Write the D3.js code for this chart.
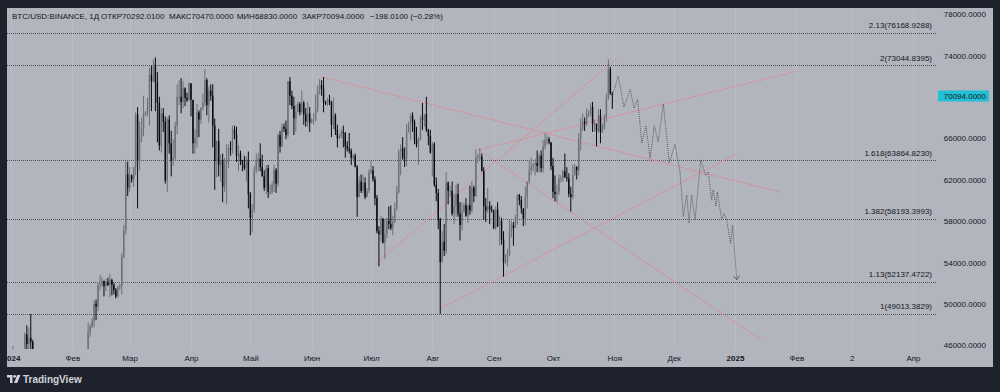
<!DOCTYPE html>
<html><head><meta charset="utf-8">
<script src="https://cdn.jsdelivr.net/npm/d3@7"></script>
<style>
html,body{margin:0;padding:0;background:#1e222d;}
svg{display:block;}
text{font-family:"Liberation Sans",Arial,sans-serif;}
</style></head><body>
<svg id="chart" width="1000" height="392"></svg>
<script>
// ---------------- DATA (prices in thousands USD, daily from startDate) ----------------
const startDate = "2024-01-01";
const endDate = "2025-04-01";
const symbolTitle = "BTC/USD:BINANCE, 1Д";

const opens = [
// Jan
42.3,44.2,45.0,42.9,44.2,44.2,44.0,43.9,47.0,46.1, 46.7,46.3,42.8,42.9,41.7,42.5,43.1,42.7,41.3,41.6, 41.7,41.6,39.5,39.8,40.1,39.9,41.8,42.1,42.0,43.3,42.9,
// Feb
42.6,43.1,43.2,43.0,42.6,42.7,43.1,44.3,45.3,47.2, 47.8,48.3,50.0,49.7,51.8,51.9,52.2,51.7,52.1,51.8, 52.3,51.8,51.3,50.7,51.6,51.7,54.5,57.1,62.5,
// Mar
61.2,62.4,62.0,63.2,68.3,63.8,66.1,66.9,68.3,68.5, 69.0,72.1,71.5,73.1,71.4,69.4,65.3,68.4,67.6,61.9, 67.8,65.5,63.8,64.1,67.2,70.0,70.0,69.5,70.8,69.9,69.7,
// Apr
71.3,69.7,65.5,66.0,68.5,67.8,68.9,69.4,71.6,69.2, 70.6,70.1,67.2,63.8,65.7,63.4,63.8,61.3,63.5,63.8, 65.0,64.9,66.8,66.4,64.3,64.5,63.8,63.5,63.1,63.8,
// May
60.6,58.3,59.1,62.9,63.9,64.0,63.2,62.3,61.2,63.1, 60.8,60.8,61.5,62.9,61.6,66.3,65.2,67.1,66.9,66.3, 71.5,70.1,69.1,67.9,68.5,69.3,68.5,69.4,68.3,67.6,68.4,
// Jun
67.5,67.8,67.8,68.8,70.6,71.1,70.8,69.4,69.3,69.7, 69.5,67.3,68.2,66.8,66.0,66.2,66.6,66.5,65.2,65.0, 64.8,64.1,64.3,63.2,60.3,61.8,60.9,61.7,60.3,60.9,
// Jul
62.7,62.9,62.0,60.2,57.0,56.7,58.2,55.9,56.7,58.0, 57.7,57.3,57.9,59.2,60.8,64.7,65.0,64.1,64.0,66.7, 67.2,68.2,67.6,65.9,65.4,65.8,67.9,67.8,68.3,66.8,66.2,
// Aug
64.6,65.4,61.5,60.7,58.1,54.0,56.0,55.1,61.7,60.9, 60.9,58.7,59.4,60.6,58.7,57.6,58.9,59.5,58.5,59.5, 59.0,61.2,60.4,64.1,64.2,64.2,62.8,59.4,59.0,59.4,59.1,
// Sep
59.0,57.3,59.1,57.5,58.0,56.2,54.0,54.1,54.8,57.0, 57.6,57.3,58.1,60.5,60.0,59.2,58.2,60.3,61.8,62.9, 63.2,63.4,63.6,63.3,64.3,63.1,65.2,65.8,65.9,65.6,
// Oct
63.3,60.8,60.6,60.8,62.1,62.1,62.8,62.2,62.1,60.6, 60.3,62.4,63.2,62.9,66.0,67.0,67.6,67.4,68.4,68.4, 69.0,67.4,67.4,66.7,68.2,66.6,67.0,68.0,69.9,72.7,70.29201
];
const highs = [
44.2,45.9,45.5,44.7,44.3,44.2,44.5,47.2,47.9,47.7, 49.0,46.5,43.3,43.1,43.4,43.6,43.2,42.9,42.1,41.9, 41.9,41.7,40.1,40.5,40.3,42.2,42.2,42.8,43.3,43.9,43.7,
43.3,43.4,43.4,43.1,43.5,43.4,44.4,45.6,48.2,48.0, 48.6,50.3,50.4,52.0,52.8,52.6,52.2,52.4,52.5,52.9, 52.4,52.0,51.5,51.7,51.9,54.9,57.6,63.9,63.7,
63.2,62.5,63.2,68.5,69.0,67.6,68.0,70.1,68.6,69.9, 72.8,73.0,73.6,73.8,72.4,70.0,68.9,68.9,68.1,68.0, 68.2,66.7,65.9,67.6,71.2,71.6,71.8,71.5,70.9,70.4,71.4,
71.3,69.7,66.9,69.3,68.7,69.0,70.3,72.7,71.8,71.0, 71.2,71.2,67.9,65.8,66.9,64.4,64.5,64.1,65.4,65.4, 65.7,67.2,67.2,67.1,65.3,64.8,63.9,64.3,64.2,64.7,
60.8,59.6,63.3,64.5,64.6,65.5,64.4,62.9,63.4,63.4, 61.5,61.8,63.4,63.1,66.4,66.7,67.4,67.4,67.7,71.5, 71.9,70.6,70.0,69.2,69.5,69.5,70.6,69.6,68.9,69.5,69.0,
67.9,68.4,70.2,71.1,71.7,71.6,71.9,69.6,69.9,70.2, 69.6,69.9,68.4,67.3,66.4,66.9,67.2,66.6,65.7,66.5, 65.0,64.5,64.5,63.4,62.3,62.5,62.4,62.2,61.2,63.0,
63.8,63.3,62.3,60.5,57.5,58.5,58.3,58.2,58.3,59.4, 59.5,58.5,59.8,61.4,64.9,65.4,66.1,65.1,67.4,67.6, 68.4,68.5,67.8,67.1,66.1,68.2,69.4,68.3,70.0,66.9,66.8,
65.6,65.6,62.2,61.1,58.3,57.0,57.7,62.7,61.8,61.4, 61.8,60.6,61.5,61.6,59.8,59.8,59.7,60.2,59.6,61.4, 61.8,61.4,64.9,64.5,65.0,64.5,63.2,60.2,61.2,59.9,59.5,
59.1,59.4,59.8,58.5,58.3,57.0,54.8,55.3,58.1,58.0, 57.9,58.6,60.6,60.6,60.4,59.2,61.3,61.8,63.9,64.1, 63.6,64.0,64.8,64.5,64.8,65.8,66.5,66.3,66.1,65.6,
64.1,62.4,61.5,62.5,62.4,62.9,64.5,63.2,62.6,61.3, 63.4,63.5,63.3,66.5,67.9,68.4,68.0,68.9,68.7,69.4, 69.5,67.8,67.4,68.8,68.8,67.4,68.3,70.3,73.6,72.9,70.47
];
const lows = [
42.2,44.2,40.8,42.6,42.5,43.4,43.6,43.2,45.0,44.3, 45.6,41.8,42.4,41.7,41.7,42.1,42.2,40.7,40.3,41.4, 41.5,39.4,38.6,39.5,39.5,39.8,41.4,41.6,41.8,42.7,42.3,
41.9,42.6,42.9,42.3,42.3,42.6,42.8,44.3,45.3,46.8, 47.6,47.7,48.4,49.3,51.3,51.6,50.7,51.2,51.7,50.6, 50.8,50.9,50.5,50.6,51.3,50.9,54.4,56.7,60.4,
60.8,61.7,61.3,62.4,59.2,62.9,65.6,66.2,68.1,68.1, 67.2,68.6,71.4,68.6,65.6,64.8,64.6,66.6,61.6,60.8, 64.5,62.3,63.3,63.8,66.4,69.2,68.4,68.9,69.1,69.5,69.6,
68.1,64.5,64.5,65.1,66.1,67.4,68.7,69.1,68.2,67.5, 69.6,65.1,61.0,62.2,62.3,61.8,59.8,60.8,59.6,63.1, 64.3,64.5,65.9,63.7,62.8,63.4,62.8,62.9,61.8,59.2,
56.6,56.9,58.8,62.6,62.8,62.8,62.3,60.9,60.6,60.2, 60.5,60.6,60.8,60.7,61.3,64.6,65.1,66.6,65.9,66.1, 69.2,68.8,66.3,66.6,68.5,68.2,68.3,67.3,67.1,67.1,66.6,
67.4,67.3,67.6,68.5,70.2,70.1,68.5,69.2,69.1,69.2, 66.1,66.9,66.3,65.1,65.9,66.0,65.1,64.1,64.7,64.5, 63.4,63.9,63.2,58.4,60.3,60.7,60.6,60.1,60.3,60.7,
62.5,61.8,59.5,56.8,53.6,56.0,55.8,54.3,56.3,57.2, 57.1,56.6,57.8,59.0,60.6,62.4,63.9,63.2,63.3,66.5, 65.8,66.6,65.4,65.1,63.4,65.8,66.8,67.1,66.6,65.3,64.5,
62.3,61.3,59.9,57.2,49.0,54.0,54.6,54.8,59.6,60.3, 58.5,57.7,58.4,58.4,56.1,57.1,58.8,58.4,57.8,58.6, 58.8,59.8,60.3,63.6,63.8,62.8,58.1,57.9,58.8,57.7,58.8,
57.2,57.1,57.4,55.6,55.7,52.6,53.8,53.6,54.6,56.4, 55.6,57.3,57.6,59.5,58.7,57.5,57.6,59.2,61.6,62.4, 62.8,62.4,62.7,62.7,62.7,62.7,64.9,65.4,65.4,62.9,
60.2,59.9,59.8,60.5,61.7,61.8,62.2,61.8,60.3,58.9, 60.1,62.4,62.0,62.4,64.8,66.7,66.7,67.2,68.0,68.1, 66.6,66.6,65.2,66.5,65.5,66.5,66.8,67.6,69.7,70.2,68.83
];
const closes = [
44.2,45.0,42.9,44.2,44.2,44.0,43.9,47.0,46.1,46.7, 46.3,42.8,42.9,41.7,42.5,43.1,42.7,41.3,41.6,41.7, 41.6,39.5,39.8,40.1,39.9,41.8,42.1,42.0,43.3,42.9,42.6,
43.1,43.2,43.0,42.6,42.7,43.1,44.3,45.3,47.2,47.8, 48.3,50.0,49.7,51.8,51.9,52.2,51.7,52.1,51.8,52.3, 51.8,51.3,50.7,51.6,51.7,54.5,57.1,62.5,61.2,
62.4,62.0,63.2,68.3,63.8,66.1,66.9,68.3,68.5,69.0, 72.1,71.5,73.1,71.4,69.4,65.3,68.4,67.6,61.9,67.8, 65.5,63.8,64.1,67.2,70.0,70.0,69.5,70.8,69.9,69.7,71.3,
69.7,65.5,66.0,68.5,67.8,68.9,69.4,71.6,69.2,70.6, 70.1,67.2,63.8,65.7,63.4,63.8,61.3,63.5,63.8,65.0, 64.9,66.8,66.4,64.3,64.5,63.8,63.5,63.1,63.8,60.6,
58.3,59.1,62.9,63.9,64.0,63.2,62.3,61.2,63.1,60.8, 60.8,61.5,62.9,61.6,66.3,65.2,67.1,66.9,66.3,71.5, 70.1,69.1,67.9,68.5,69.3,68.5,69.4,68.3,67.6,68.4,67.5,
67.8,67.8,68.8,70.6,71.1,70.8,69.4,69.3,69.7,69.5, 67.3,68.2,66.8,66.0,66.2,66.6,66.5,65.2,65.0,64.8, 64.1,64.3,63.2,60.3,61.8,60.9,61.7,60.3,60.9,62.7,
62.9,62.0,60.2,57.0,56.7,58.2,55.9,56.7,58.0,57.7, 57.3,57.9,59.2,60.8,64.7,65.0,64.1,64.0,66.7,67.2, 68.2,67.6,65.9,65.4,65.8,67.9,67.8,68.3,66.8,66.2,64.6,
65.4,61.5,60.7,58.1,54.0,56.0,55.1,61.7,60.9,60.9, 58.7,59.4,60.6,58.7,57.6,58.9,59.5,58.5,59.5,59.0, 61.2,60.4,64.1,64.2,64.2,62.8,59.4,59.0,59.4,59.1,59.0,
57.3,59.1,57.5,58.0,56.2,54.0,54.1,54.8,57.0,57.6, 57.3,58.1,60.5,60.0,59.2,58.2,60.3,61.8,62.9,63.2, 63.4,63.6,63.3,64.3,63.1,65.2,65.8,65.9,65.6,63.3,
60.8,60.6,60.8,62.1,62.1,62.8,62.2,62.1,60.6,60.3, 62.4,63.2,62.9,66.0,67.0,67.6,67.4,68.4,68.4,69.0, 67.4,67.4,66.7,68.2,66.6,67.0,68.0,69.9,72.7,70.29201,70.094
];

// price axis ticks
const priceTicks = [46000,50000,54000,58000,62000,66000,70000,74000,78000];
// time axis ticks
const timeTickDates = ["2024-01-01","2024-02-01","2024-03-01","2024-04-01","2024-05-01","2024-06-01","2024-07-01","2024-08-01","2024-09-01","2024-10-01","2024-11-01","2024-12-01","2025-01-01","2025-02-01","2025-03-01","2025-04-01"];
const timeTickLabels = ["2024","Фев","Мар","Апр","Май","Июн","Июл","Авг","Сен","Окт","Ноя","Дек","2025","Фев","2","Апр"];
const timeTickBold = [true,false,false,false,false,false,false,false,false,false,false,false,true,false,false,false];

// Fibonacci extension levels
const fibLevels = ["1","1.13","1.382","1.618","2","2.13"];
const fibPrices = [49013.3829,52137.4722,58193.3993,63864.8230,73044.8395,76168.9288];

// trend lines: [day offset from startDate, price]
const trendFrom = [[157.2,71910],[185.5,54025],[216.9,49481],[236.1,64852],[236.1,64852]];
const trendTo   = [[388.8,60792],[305.9,73650],[367.5,64562],[378.7,46581],[397.9,72490]];

// projected path (day offset, price in thousands)
const projDays = [304,307,309.9,313,315,316.8,318.9,321,323.1,325.2,327.2,329.8,332.8,335.7,338.2,339.9,341.6,342.8,344.1,345.8,348.7,351.2,352.5,354.2,355,356.4,357.1,359.3,360.5,361.8,363.8,364.8,366.9];
const projPrices = [70.1,72.0,69.0,70.7,68.9,69.75,65.5,67.2,64.05,67.2,65.65,69.3,63.6,65.4,62.75,58.4,60.5,57.8,60.5,58.1,63.9,62.4,62.75,60.0,61.0,59.4,60.8,58.1,58.7,58.1,55.8,57.6,52.3];

// ---------------- DRAWING ----------------
const W = 1000, H = 392;
const panel = {x:7, y:8, w:986, h:359};
const plot = {x0:7, x1:937, y0:8, y1:349};

const parse = d3.utcParse("%Y-%m-%d");
const t0 = parse(startDate);
const DAY = 864e5;
const dayToDate = d => new Date(+t0 + d*DAY);

const candles = closes.map((c,i)=>({
  date: dayToDate(i), o: opens[i]*1000, h: highs[i]*1000, l: lows[i]*1000, c: c*1000
}));

const x = d3.scaleUtc().domain([t0, parse(endDate)]).range([11, 913]);
const y = d3.scaleLinear().domain([46000, 78000]).range([345, 14]);

const svg = d3.select("#chart");
svg.append("rect").attr("width",W).attr("height",H).attr("fill","#1e222d");
svg.append("rect").attr("x",panel.x).attr("y",panel.y).attr("width",panel.w).attr("height",panel.h).attr("fill","#b2b5be");

const defs = svg.append("defs");
defs.append("clipPath").attr("id","plotClip").append("rect")
  .attr("x",plot.x0).attr("y",plot.y0).attr("width",plot.x1-plot.x0).attr("height",plot.y1-plot.y0);
defs.append("clipPath").attr("id","panelClip").append("rect")
  .attr("x",panel.x).attr("y",panel.y).attr("width",panel.w).attr("height",panel.h);

// vertical grid
svg.append("g").attr("clip-path","url(#plotClip)").selectAll("line")
  .data(timeTickDates).join("line")
  .attr("x1",d=>Math.round(x(parse(d)))+0.5).attr("x2",d=>Math.round(x(parse(d)))+0.5)
  .attr("y1",plot.y0).attr("y2",plot.y1)
  .attr("stroke","#bcbec6").attr("stroke-width",1);

const gPlot = svg.append("g").attr("clip-path","url(#plotClip)");

// Fibonacci lines
gPlot.selectAll("line.fib").data(fibPrices).join("line").attr("class","fib")
  .attr("x1",plot.x0).attr("x2",plot.x1)
  .attr("y1",d=>Math.round(y(d))+0.5).attr("y2",d=>Math.round(y(d))+0.5)
  .attr("stroke","#50535c").attr("stroke-width",1).attr("stroke-dasharray","1,1");
gPlot.selectAll("text.fib").data(fibPrices).join("text").attr("class","fib")
  .attr("x",932).attr("y",d=>y(d)-7.5).attr("dy","0.35em")
  .attr("text-anchor","end").attr("font-size",8).attr("fill","#131722")
  .text((d,i)=>`${fibLevels[i]}(${d.toFixed(4)})`);

// trend lines
gPlot.selectAll("line.trend").data(trendFrom).join("line").attr("class","trend")
  .attr("x1",d=>x(dayToDate(d[0]))).attr("y1",d=>y(d[1]))
  .attr("x2",(d,i)=>x(dayToDate(trendTo[i][0]))).attr("y2",(d,i)=>y(trendTo[i][1]))
  .attr("stroke","#f2737d").attr("stroke-width",1).attr("stroke-dasharray","1.2,1.2");

// candles
const step = x(dayToDate(1)) - x(dayToDate(0));
const bodyW = step*0.72;
const gC = gPlot.append("g");
gC.selectAll("line.wick").data(candles).join("line").attr("class","wick")
  .attr("x1",d=>x(d.date)).attr("x2",d=>x(d.date))
  .attr("y1",d=>y(d.h)).attr("y2",d=>y(d.l))
  .attr("stroke",d=>d.c>=d.o?"#6d7078":"#0b0b0d").attr("stroke-width",1);
gC.selectAll("rect.body").data(candles).join("rect").attr("class","body")
  .attr("x",d=>x(d.date)-bodyW/2).attr("width",bodyW)
  .attr("y",d=>y(Math.max(d.o,d.c)))
  .attr("height",d=>Math.max(1, Math.abs(y(d.o)-y(d.c))))
  .attr("fill",d=>d.c>=d.o?"#6d7078":"#0b0b0d");

// projection path
const projPts = projDays.map((d,i)=>[x(dayToDate(d)), y(projPrices[i]*1000)]);
gPlot.append("path").attr("d",d3.line()(projPts))
  .attr("fill","none").attr("stroke","#575a63").attr("stroke-width",1).attr("stroke-dasharray","1,1");
// arrow head
{
  const p1 = projPts[projPts.length-2], p2 = projPts[projPts.length-1];
  const ang = Math.atan2(p2[1]-p1[1], p2[0]-p1[0]);
  const L = 5;
  [ang+Math.PI*0.8, ang-Math.PI*0.8].forEach(a=>{
    gPlot.append("line").attr("x1",p2[0]).attr("y1",p2[1])
      .attr("x2",p2[0]+L*Math.cos(a)).attr("y2",p2[1]+L*Math.sin(a))
      .attr("stroke","#575a63").attr("stroke-width",1);
  });
}

// price axis
const last = candles[candles.length-1];
const lastY = y(last.c);
const yAxis = d3.axisRight(y)
  .tickValues(priceTicks.filter(v=>Math.abs(y(v)-lastY)>10))
  .tickSize(0).tickPadding(0).tickFormat(d=>d.toFixed(4));
const gy = svg.append("g").attr("transform","translate(986,0)").call(yAxis);
gy.select(".domain").remove();
gy.selectAll("text").attr("text-anchor","end").attr("x",0).attr("dy","0.35em")
  .attr("font-size",8).attr("font-family",'"Liberation Sans",Arial,sans-serif').attr("fill","#131722");

// current price label
svg.append("rect").attr("x",938).attr("y",Math.round(lastY)-5.5).attr("width",51).attr("height",11)
  .attr("fill","#22bfd6");
svg.append("text").attr("x",986).attr("y",lastY).attr("dy","0.35em").attr("text-anchor","end")
  .attr("font-size",8).attr("fill","#131722").text(last.c.toFixed(4));

// time axis
const xAxis = d3.axisBottom(x).tickValues(timeTickDates.map(parse))
  .tickSize(0).tickPadding(0).tickFormat((d,i)=>timeTickLabels[i]);
const gx = svg.append("g").attr("clip-path","url(#panelClip)")
  .append("g").attr("transform","translate(0,358)").call(xAxis);
gx.select(".domain").remove();
gx.selectAll("text").attr("y",0).attr("dy","0.35em")
  .attr("font-size",8).attr("font-family",'"Liberation Sans",Arial,sans-serif').attr("fill","#131722")
  .attr("font-weight",(d,i)=>timeTickBold[i]?"bold":"normal");

// header
const fmt4 = v => v.toFixed(4);
const chg = last.c - last.o;
const sign = v => (v<0?"\u2212":"");
const headerParts = [
  symbolTitle,
  "ОТКР"+fmt4(last.o),
  "МАКС"+fmt4(last.h),
  "МИН"+fmt4(last.l),
  "ЗАКР"+fmt4(last.c),
  `${sign(chg)}${fmt4(Math.abs(chg))} (${sign(chg)}${Math.abs(chg/last.o*100).toFixed(2)}%)`
];
const headerX = [12,101,169,236.7,301.7,370];
svg.append("g").selectAll("text").data(headerParts).join("text")
  .attr("x",(d,i)=>headerX[i]).attr("y",16.5).attr("dy","0.35em")
  .attr("font-size",8).attr("fill","#131722").text(d=>d);

// TradingView watermark
const logo = svg.append("g").attr("transform","translate(7,375)").attr("fill","#d1d4dc");
logo.append("path").attr("d","M0 0H5.5V8H3V2.5H0Z");
logo.append("circle").attr("cx",7.6).attr("cy",1.4).attr("r",1.4);
logo.append("path").attr("d","M10.2 0H13.4L10.2 8H7Z");
svg.append("text").attr("x",23).attr("y",379.5).attr("dy","0.35em")
  .attr("font-size",10).attr("font-weight","600").attr("fill","#d1d4dc").text("TradingView");
</script>
</body></html>
